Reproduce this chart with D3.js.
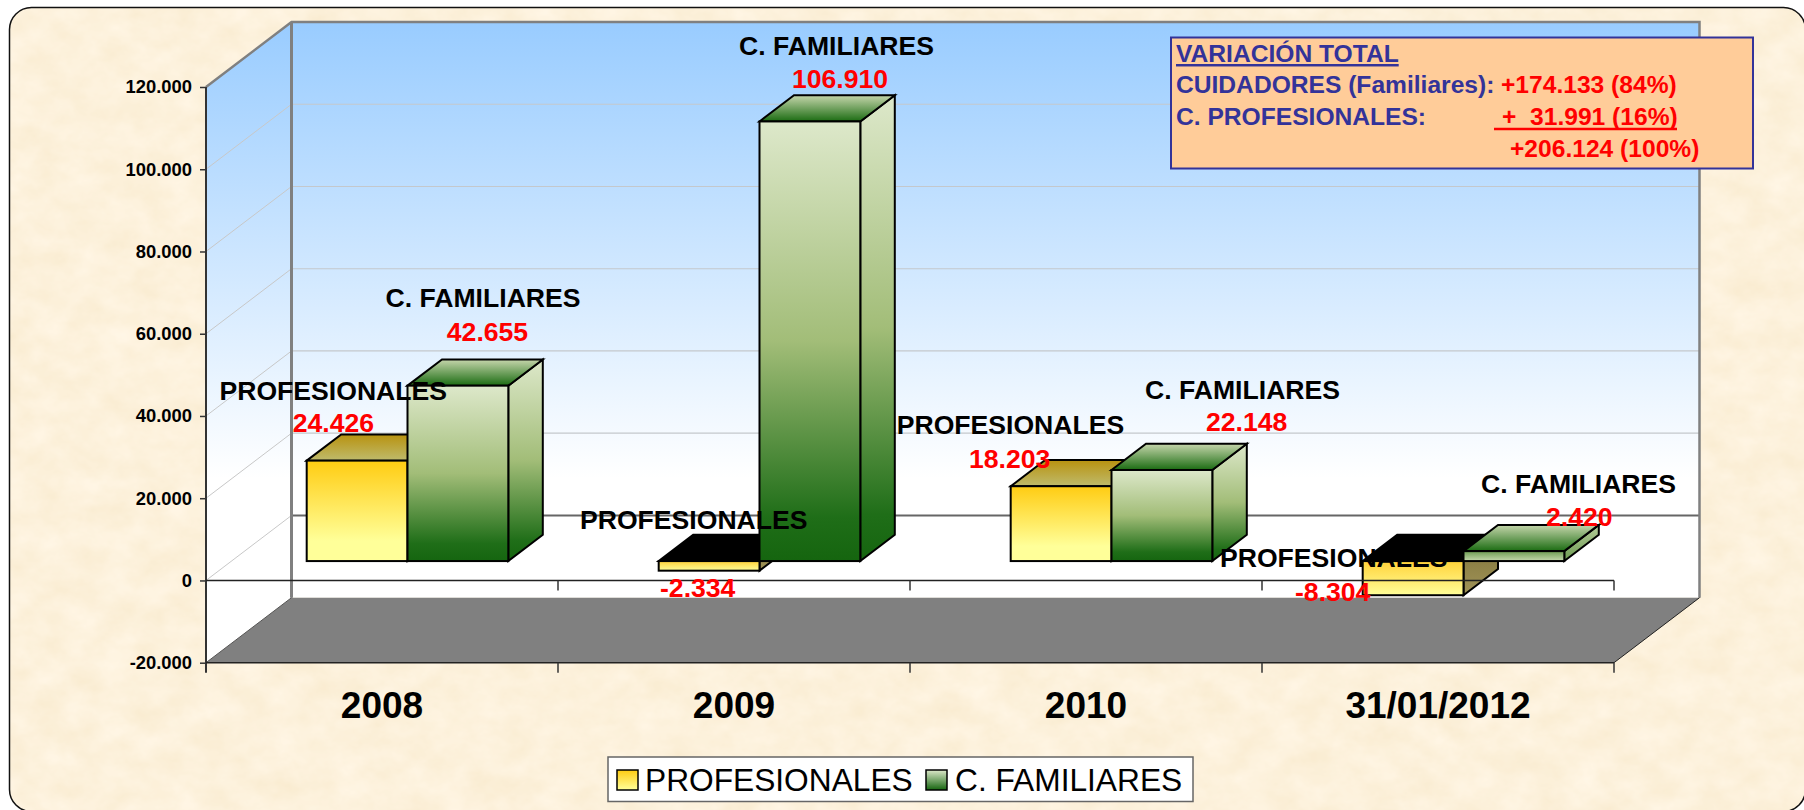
<!DOCTYPE html>
<html><head><meta charset="utf-8">
<script src="https://cdn.jsdelivr.net/npm/d3@7"></script>
<style>html,body{margin:0;padding:0;background:#fff;overflow:hidden}svg{display:block}text{font-family:"Liberation Sans",Arial,sans-serif}</style>
</head><body><div id="chart"></div>
<script>
const categories = ["2008","2009","2010","31/01/2012"];
const seriesNames = ["PROFESIONALES","C. FAMILIARES"];
const profesionales = [24426,-2334,18203,-8304];
const familiares = [42655,106910,22148,2420];
const yTicks = [-20000,0,20000,40000,60000,80000,100000,120000];
const calloutTitle = "VARIACIÓN TOTAL";
const calloutNames = ["CUIDADORES (Familiares):","C. PROFESIONALES:"];
const calloutValues = ["+174.133 (84%)","+  31.991 (16%)","+206.124 (100%)"];

// label placement relative to each bar's top-front corner (layout only)
const labelOffsets = [
 [{nx:-87.2,ny:-60.6,vx:-14,vy:-28.6},{nx:-22,ny:-79,vx:39.3,vy:-45}],
 [{nx:-78.7,ny:-41.3,vx:1.3,vy:26},{nx:-20.5,ny:-66.4,vx:32.5,vy:-33}],
 [{nx:-114,ny:-52,vx:-41.7,vy:-18},{nx:33.5,ny:-71,vx:94.5,vy:-39}],
 [{nx:-142.7,ny:-28.3,vx:-67.7,vy:5.7},{nx:17.5,ny:-58.3,vx:82.5,vy:-25}]
];

const W=1804,H=810;
const frontL=206,frontR=1614,dx=85.5,dy=65;
const x=d3.scaleBand().domain(categories).range([frontL,frontR]);
const inner=d3.scaleBand().domain(seriesNames).range([0,x.bandwidth()]).paddingOuter(0.746).paddingInner(0).align(0.5);
const y=d3.scaleLinear().domain([-20000,120000]).range([662.7,87]);
const fmt=d3.formatLocale({decimal:",",thousands:".",grouping:[3],currency:["",""],minus:"-"}).format(",d");
const svg=d3.select("#chart").append("svg").attr("width",W).attr("height",H);
const defs=svg.append("defs");
function grad(id,stops,attrs){
  const g=defs.append("linearGradient").attr("id",id).attr("x1",0).attr("y1",0).attr("x2",0).attr("y2",1);
  if(attrs)Object.entries(attrs).forEach(([k,v])=>g.attr(k,v));
  stops.forEach(([o,c])=>g.append("stop").attr("offset",o).attr("stop-color",c));
}
grad("wall",[[0,"#99ccff"],[1,"#ffffff"]],{gradientUnits:"userSpaceOnUse",x1:0,y1:23,x2:0,y2:478});
grad("yFront",[[0,"#ffcc12"],[0.8,"#ffff99"],[1,"#ffff99"]]);
grad("yFrontNeg",[[0,"#ffd23a"],[1,"#ffff99"]]);
grad("yTop",[[0,"#b8920f"],[1,"#bfbb6c"]]);
grad("ySideNeg",[[0,"#7e7038"],[1,"#a09458"]]);
grad("gFront",[[0,"#dde8ca"],[0.5,"#a2bd78"],[0.9,"#1f6e18"],[1,"#15650f"]]);
grad("gSide",[[0,"#dde8ca"],[0.5,"#a2bd78"],[0.9,"#1f6e18"],[1,"#15650f"]]);
grad("gTop",[[0,"#c6d6ac"],[1,"#1b6c12"]]);
grad("gFrontSmall",[[0,"#6d9c52"],[1,"#c6d9ae"]]);
grad("gSideSmall",[[0,"#b4cb98"],[1,"#6d9c52"]]);
grad("legY",[[0,"#ffcc12"],[1,"#ffff99"]]);
grad("legG",[[0,"#dde8ca"],[1,"#15650f"]]);

const f=defs.append("filter").attr("id","paper").attr("x",0).attr("y",0).attr("width","100%").attr("height","100%").attr("color-interpolation-filters","sRGB");
f.append("feTurbulence").attr("type","fractalNoise").attr("baseFrequency","0.03 0.04").attr("numOctaves",4).attr("seed",7);
f.append("feColorMatrix").attr("values","0.03 0 0 0 0.975  0.05 0 0 0 0.92  0.1 0 0 0 0.81  0 0 0 0 1");

// panel
defs.append("clipPath").attr("id","panelClip").append("rect").attr("x",9.5).attr("y",7.5).attr("width",1796).attr("height",804).attr("rx",22);
svg.append("g").attr("clip-path","url(#panelClip)").append("rect").attr("x",0).attr("y",0).attr("width",W).attr("height",H).attr("fill","#fcf0d9").attr("filter","url(#paper)");
svg.append("rect").attr("x",9.5).attr("y",7.5).attr("width",1796).attr("height",804).attr("rx",22).attr("fill","none").attr("stroke","#111").attr("stroke-width",1.5);

const poly=pts=>pts.map(p=>p.join(",")).join(" ");
const yMin=y(-20000),yMax=y(120000);
// walls and floor
const back=svg.append("g");
back.append("polygon").attr("points",poly([[frontL,yMax],[frontL+dx,yMax-dy],[frontR+dx,yMax-dy],[frontR+dx,yMin-dy],[frontL+dx,yMin-dy],[frontL,yMin]])).attr("fill","url(#wall)");
// gridlines on both walls
yTicks.filter(t=>t>-20000&&t<120000).forEach(t=>{
  const c=t===0?"#666":"#c4c8cc";
  back.append("line").attr("x1",frontL).attr("y1",y(t)).attr("x2",frontL+dx).attr("y2",y(t)-dy).attr("stroke","#c8c8c8").attr("stroke-width",1);
  back.append("line").attr("x1",frontL+dx).attr("y1",y(t)-dy).attr("x2",frontR+dx).attr("y2",y(t)-dy).attr("stroke",c).attr("stroke-width",t===0?2:1.2);
});
back.append("polygon").attr("points",poly([[frontL,yMin],[frontL+dx,yMin-dy],[frontR+dx,yMin-dy],[frontR,yMin]])).attr("fill","#808080");
back.append("polyline").attr("points",poly([[frontL,yMax],[frontL+dx,yMax-dy],[frontR+dx,yMax-dy],[frontR+dx,yMin-dy]])).attr("fill","none").attr("stroke","#808080").attr("stroke-width",2.5);
back.append("line").attr("x1",frontL+dx).attr("y1",yMax-dy).attr("x2",frontL+dx).attr("y2",yMin-dy).attr("stroke","#808080").attr("stroke-width",3);
back.append("line").attr("x1",frontR).attr("y1",yMin).attr("x2",frontR+dx).attr("y2",yMin-dy).attr("stroke","#222").attr("stroke-width",1);
back.append("line").attr("x1",frontL).attr("y1",yMin).attr("x2",frontL+dx).attr("y2",yMin-dy).attr("stroke","#555").attr("stroke-width",1);

// bars (drawn as three faces, with depth centred on the floor)
const depth=0.4035;
const ox=dx*(1-depth)/2, oy=dy*(1-depth)/2, bx=dx*depth, by=dy*depth;
const values=[profesionales,familiares];
const barsG=svg.append("g").attr("stroke","#000").attr("stroke-width",2).attr("stroke-linejoin","miter");
function bar(i,s){
  const v=values[s][i];
  const left=x(categories[i])+inner(seriesNames[s])+ox, w=inner.bandwidth();
  const y0=y(0)-oy, yv=y(v)-oy;
  const yTop=Math.min(y0,yv), yBot=Math.max(y0,yv);
  const neg=v<0, small=Math.abs(v)<5000;
  const g=barsG.append("g");
  const frontFill=s===0?(neg?"url(#yFrontNeg)":"url(#yFront)"):(small?"url(#gFrontSmall)":"url(#gFront)");
  const sideFill=s===0?"url(#ySideNeg)":(small?"url(#gSideSmall)":"url(#gSide)");
  const topFill=s===0?(neg?"#000":"url(#yTop)"):"url(#gTop)";
  g.append("polygon").attr("points",poly([[left+w,yTop],[left+w+bx,yTop-by],[left+w+bx,yBot-by],[left+w,yBot]])).attr("fill",sideFill);
  g.append("polygon").attr("points",poly([[left,yTop],[left+bx,yTop-by],[left+w+bx,yTop-by],[left+w,yTop]])).attr("fill",topFill);
  g.append("rect").attr("x",left).attr("y",yTop).attr("width",w).attr("height",yBot-yTop).attr("fill",frontFill);
  return {left,yv};
}
const anchors=categories.map((c,i)=>[bar(i,0),bar(i,1)]);

// axes
const yAxis=d3.axisLeft(y).tickValues(yTicks).tickSize(6).tickPadding(8).tickFormat(t=>t===0?"0":fmt(t));
const ya=svg.append("g").attr("transform",`translate(${frontL},0)`).call(yAxis);
ya.select(".domain").attr("stroke","#333").attr("stroke-width",2).attr("d",`M0,${yMax}V${yMin+10}`);
ya.selectAll(".tick line").attr("stroke","#333").attr("stroke-width",1.5);
ya.selectAll("text").attr("font-size",18.4).attr("font-weight","bold").attr("fill","#000").attr("font-family","Liberation Sans");

const xAxisAt=(yy)=>{
  const a=svg.append("g").attr("transform",`translate(0,${yy})`);
  a.append("line").attr("x1",frontL).attr("x2",frontR).attr("stroke","#222").attr("stroke-width",1.5);
  a.selectAll(".t").data(categories).join("line").attr("class","t")
   .attr("x1",d=>x(d)+x.bandwidth()).attr("x2",d=>x(d)+x.bandwidth()).attr("y2",10).attr("stroke","#333").attr("stroke-width",1.5);
};
xAxisAt(y(0));xAxisAt(y(-20000));
const xa=svg.append("g").attr("transform",`translate(0,${yMin})`).call(d3.axisBottom(x).tickSize(0).tickPadding(29));
xa.select(".domain").remove();
xa.selectAll("text").attr("font-size",37).attr("font-weight","bold").attr("fill","#000").attr("font-family","Liberation Sans");

// data labels
const labels=svg.append("g").attr("font-weight","bold").attr("font-size",26.6);
categories.forEach((c,i)=>[0,1].forEach(s=>{
  const a=anchors[i][s],o=labelOffsets[i][s],v=values[s][i];
  labels.append("text").attr("x",a.left+o.nx).attr("y",a.yv+o.ny).attr("fill","#000").text(seriesNames[s]);
  labels.append("text").attr("x",a.left+o.vx).attr("y",a.yv+o.vy).attr("fill","#ff0000").text(fmt(v));
}));

// callout
const box=svg.append("g");
box.append("rect").attr("x",1171).attr("y",37.5).attr("width",582).attr("height",131).attr("fill","#ffcc99").attr("stroke","#333399").attr("stroke-width",2);
const boxText=box.append("g").attr("font-weight","bold").attr("font-size",24.6);
boxText.append("text").attr("x",1176).attr("y",62).attr("fill","#333399").attr("text-decoration","underline").text(calloutTitle);
calloutNames.forEach((t,i)=>boxText.append("text").attr("x",1176).attr("y",[93,125][i]).attr("fill","#333399").text(t));
calloutValues.forEach((t,i)=>boxText.append("text").attr("x",[1501,1502,1510][i]).attr("y",[93,125,157][i]).attr("fill","#ff0000").style("white-space","pre").text(t));
box.append("line").attr("x1",1494).attr("x2",1677).attr("y1",129).attr("y2",129).attr("stroke","#ff0000").attr("stroke-width",2.5);

// legend
const leg=svg.append("g");
leg.append("rect").attr("x",608).attr("y",757).attr("width",585).attr("height",44.5).attr("fill","#fff").attr("stroke","#666").attr("stroke-width",1.5);
[[617,"url(#legY)",645],[926,"url(#legG)",955]].forEach(([sx,fill,tx],i)=>{
  leg.append("rect").attr("x",sx).attr("y",770).attr("width",21).attr("height",20).attr("fill",fill).attr("stroke","#000").attr("stroke-width",1.5);
  leg.append("text").attr("x",tx).attr("y",790.5).attr("font-size",31.7).attr("fill","#000").text(seriesNames[i]);
});
</script></body></html>
